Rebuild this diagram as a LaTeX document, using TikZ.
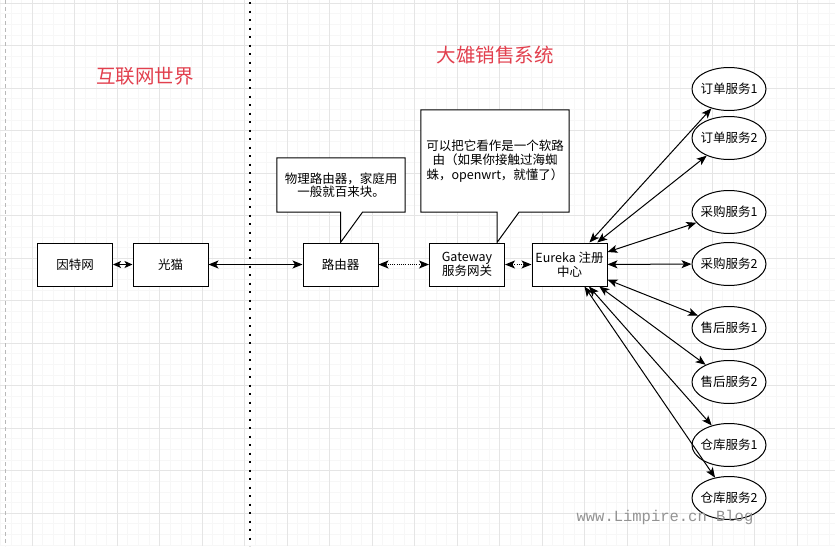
\documentclass[tikz,border=0pt]{standalone}
\usepackage{fontspec}
\setmainfont{Noto Sans CJK SC}
\newfontfamily\markfont{Liberation Mono}
\usetikzlibrary{arrows.meta,shapes.geometric,calc}
\pgfdeclarelayer{grid}
\pgfdeclarelayer{notes}
\pgfsetlayers{grid,notes,main}
\definecolor{titlered}{RGB}{226,64,78}

\begin{document}
\begin{tikzpicture}[x=1pt,y=-1pt,
    txt/.style={font=\fontsize{12.5}{14}\selectfont},
    box/.style={txt,draw,line width=1pt,fill=white,minimum width=75pt,minimum height=43pt,inner sep=1pt,align=center},
    svc/.style={txt,draw,ellipse,line width=1pt,fill=white,minimum width=74pt,minimum height=43pt,inner sep=0pt},
    note/.style={txt,inner sep=0pt,align=center},
    noteline/.style={draw,fill=white,line width=1pt},
    title/.style={text=titlered,font=\fontsize{19.5}{22}\selectfont},
    biarrow/.style={{Stealth[length=10pt,width=8pt,inset=2.5pt]}-{Stealth[length=10pt,width=8pt,inset=2.5pt]},line width=1pt},
    shortarrow/.style={{Stealth[length=8pt,width=7pt,inset=2pt]}-{Stealth[length=8pt,width=7pt,inset=2pt]},line width=1pt},
    dotlink/.style={biarrow,dash pattern=on 1pt off 1.2pt}]
    \useasboundingbox (0,0) rectangle (835,546);

    % grid background
    \begin{pgfonlayer}{grid}
        \fill[white] (0,0) rectangle (835,546);
        \foreach \k in {0,...,78}
            \draw[gray!6,line width=0.5pt] ({0.125+\k*10.625},0) -- ++(0,546);
        \foreach \k in {0,...,51}
            \draw[gray!6,line width=0.5pt] (0,{3+\k*10.625}) -- ++(835,0);
        \foreach \k in {0,...,18}
            \draw[gray!20,line width=0.8pt] ({32+\k*42.5},0) -- ++(0,546);
        \foreach \k in {0,...,12}
            \draw[gray!20,line width=0.8pt] (0,{3+\k*42.5}) -- ++(835,0);
        \draw[gray!55,line width=0.6pt,dash pattern=on 4pt off 3pt] (5,0) -- (5,546);
        \draw[black,line width=2pt,dash pattern=on 2pt off 6.5pt] (250,2) -- (250,546);
    \end{pgfonlayer}

    \node[title] (nettitle) at (145,76) {互联网世界};
    \node[title] (systitle) at (495,55) {大雄销售系统};

    \node[box] (internet) at (75,264.5) {因特网};
    \node[box] (modem) at (170.5,264.5) {光猫};
    \node[box] (router) at (340.5,264.5) {路由器};
    \node[box] (gateway) at (467,264.5) {Gateway\\服务网关};
    \node[box] (eureka) at (569.5,264.5) {Eureka 注册\\中心};

    \foreach \svcname/\svclabel/\svcy in {order1/订单服务1/89,order2/订单服务2/138,
        buy1/采购服务1/212,buy2/采购服务2/264,after1/售后服务1/328,
        after2/售后服务2/382,store1/仓库服务1/445,store2/仓库服务2/498}
        \node[svc] (\svcname) at (729,\svcy) {\makebox[0pt]{\svclabel}};

    % callouts
    \node[note,minimum width=128pt,minimum height=54pt,font=\fontsize{12.5}{12.5}\selectfont] (rnote) at (341,185) {物理路由器，家庭用\\一般就百来块。};
    \node[note,minimum width=148pt,minimum height=102pt,font=\fontsize{12.5}{14.5}\selectfont] (gnote) at (495,161) {可以把它看作是一个软路\\由（如果你接触过海蜘\\蛛，openwrt，就懂了）};
    \coordinate (gtip) at ($(gateway.north east)+(-8,0)$);
    \begin{pgfonlayer}{notes}
        \draw[noteline] (rnote.south west) -- (rnote.north west) -- (rnote.north east) -- (rnote.south east)
            -- ($(router.north |- rnote.south)+(22,0)$) -- (router.north) -- (router.north |- rnote.south) -- cycle;
        \draw[noteline] (gnote.south west) -- (gnote.north west) -- (gnote.north east) -- (gnote.south east)
            -- ($(gtip |- gnote.south)+(22,0)$) -- (gtip) -- (gtip |- gnote.south) -- cycle;
    \end{pgfonlayer}

    \draw[shortarrow] (internet) -- (modem);
    \draw[biarrow] (modem) -- (router);
    \draw[dotlink] (router) -- (gateway);
    \draw[dotlink] (gateway) -- (eureka);
    \foreach \svcname in {order1,order2,buy1,buy2,after1,after2,store1,store2}
        \draw[biarrow] (eureka) -- (\svcname);

    \node[text=gray!85,font=\markfont\fontsize{15.5}{16}\selectfont] (mark) at (665,517) {www.Limpire.cn Blog};
\end{tikzpicture}
\end{document}
